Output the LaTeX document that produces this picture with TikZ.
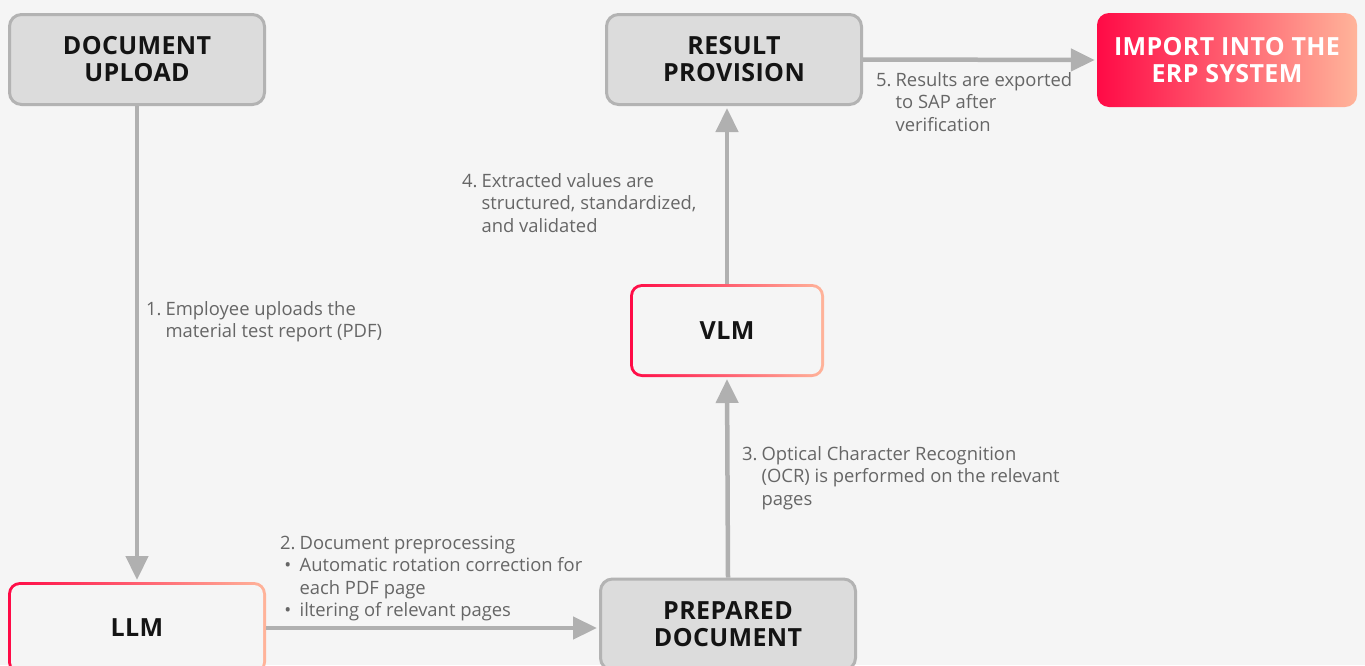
\documentclass[tikz,border=0pt]{standalone}
\usepackage{fontspec}
\setmainfont{Open Sans}
\newfontfamily\titlefam{Open Sans}[LetterSpace=1.5]
\usetikzlibrary{arrows.meta}

\definecolor{bg}{HTML}{F5F5F5}
\definecolor{boxfill}{HTML}{DCDCDC}
\definecolor{boxline}{HTML}{B3B3B3}
\definecolor{arrowc}{HTML}{B0B0B0}
\definecolor{hotred}{HTML}{FF0A46}
\definecolor{peach}{HTML}{FFB49A}
\definecolor{labelc}{HTML}{666666}
\definecolor{titlec}{HTML}{141414}

\newcommand\titlefont{\titlefam\fontsize{25}{27}\selectfont\bfseries}
\newcommand\labelfont{\fontsize{18.4}{22.5}\selectfont}

\tikzset{
  greybox/.style={draw=boxline, line width=3pt, fill=boxfill, rounded corners=12pt,
    minimum width=255pt, minimum height=90pt, inner sep=0pt,
    font=\titlefont, text=titlec, align=center},
  ringouter/.style={rounded corners=12pt, left color=hotred, right color=peach,
    inner sep=0pt, outer sep=0pt},
  ringinner/.style={rounded corners=9pt, fill=bg, inner sep=0pt, outer sep=0pt,
    font=\titlefont, text=titlec, align=center},
  hotbox/.style={rounded corners=12pt, left color=hotred, right color=peach,
    minimum width=260pt, minimum height=94pt, inner sep=0pt,
    font=\titlefont, text=white, align=center},
  flow/.style={draw=arrowc, line width=4.5pt,
    -{Triangle[length=24pt,width=22pt]}, shorten >=2pt},
  lbl/.style={anchor=base west, inner sep=0pt, text=labelc, font=\labelfont, align=left},
}

\begin{document}
\begin{tikzpicture}[x=1pt, y=-1pt]
  \fill[bg] (0,0) rectangle (1365,665);
  \useasboundingbox (0,0) rectangle (1365,665);

  % process boxes
  \node[greybox] (up)  at (137,59.5) {DOCUMENT\\UPLOAD};
  \node[greybox] (res) at (734,59.5) {RESULT\\PROVISION};
  \node[greybox, minimum height=91pt] (prep) at (728,624.5) {PREPARED\\DOCUMENT};
  \node[hotbox] (imp) at (1227,60) {IMPORT INTO THE\\ERP SYSTEM};

  % model boxes with a gradient outline
  \node[ringouter, minimum width=194pt, minimum height=93pt] (vlm) at (727,330.5) {};
  \node[ringinner, minimum width=188pt, minimum height=87pt] (vlmtext) at (vlm.center) {VLM};
  \node[ringouter, minimum width=258pt, minimum height=92pt] (llm) at (137,628) {};
  \node[ringinner, minimum width=252pt, minimum height=86pt] (llmtext) at (llm.center) {LLM};

  % connectors
  \draw[flow] (up.south) -- (llm.north);
  \draw[flow] (llm.east) -- (llm.east -| prep.west);
  \draw[flow] (prep.north) -- (vlm.south);
  \draw[flow] (vlm.north) -- (vlm.north |- res.south);
  \draw[flow] (res.east) -- (imp.west);

  % step descriptions
  \node[lbl] (s1) at (146,315) {\begin{tabular}[t]{@{}c@{\hspace{4pt}}l@{}}
    1. & Employee uploads the\\ & material test report (PDF)\end{tabular}};
  \node[lbl] (s2) at (280,549) {\begin{tabular}[t]{@{}c@{\hspace{4pt}}l@{}}
    2. & Document preprocessing\\
    • & Automatic rotation correction for\\
      & each PDF page\\
    • & iltering of relevant pages\end{tabular}};
  \node[lbl] (s3) at (742,460) {\begin{tabular}[t]{@{}c@{\hspace{4pt}}l@{}}
    3. & Optical Character Recognition\\
       & (OCR) is performed on the relevant\\
       & pages\end{tabular}};
  \node[lbl] (s4) at (462,187) {\begin{tabular}[t]{@{}c@{\hspace{4pt}}l@{}}
    4. & Extracted values are\\
       & structured, standardized,\\
       & and validated\end{tabular}};
  \node[lbl] (s5) at (876,86) {\begin{tabular}[t]{@{}c@{\hspace{4pt}}l@{}}
    5. & Results are exported\\
       & to SAP after\\
       & verification\end{tabular}};
\end{tikzpicture}
\end{document}
